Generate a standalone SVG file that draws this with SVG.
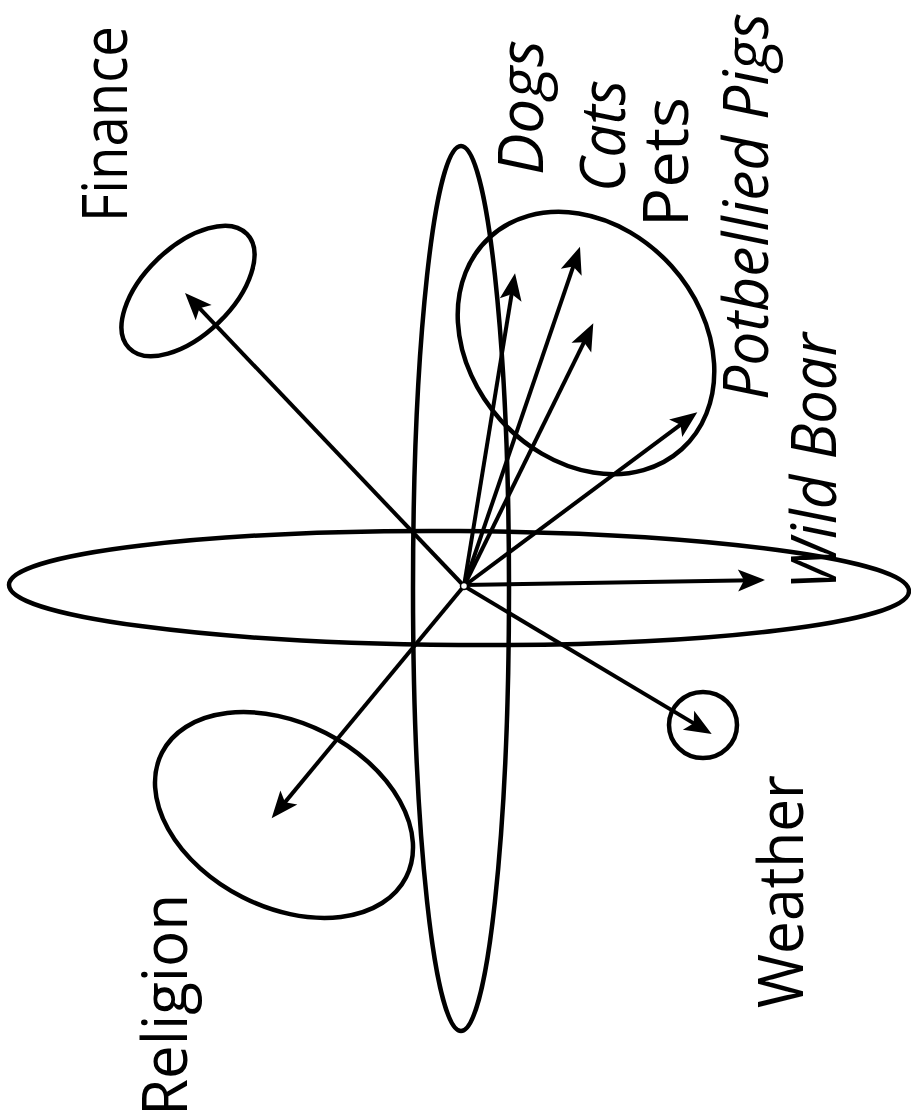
<svg xmlns="http://www.w3.org/2000/svg" width="911" height="1118" viewBox="0 0 911 1118">
<style>
.shape{fill:none;stroke:#000;stroke-width:4.5}
.arrow{fill:none;stroke:#000;stroke-width:4}
.lbl{font-family:"Open Sans","Liberation Sans",sans-serif;font-size:62px;fill:#000}
.it{font-style:italic}
</style>
<defs>
<marker id="ah" markerUnits="userSpaceOnUse" markerWidth="60" markerHeight="40" viewBox="-30 -20 60 40" refX="0" refY="0" orient="auto">
<path d="M12,0 L-15,-11 L-9,0 L-15,11 Z" fill="#000"/>
</marker>
</defs>
<rect width="911" height="1118" fill="#fff"/>
<g id="plane-horizontal"><ellipse class="shape" cx="459" cy="588" rx="450" ry="57" transform="rotate(0.4 459 588)"/></g>
<g id="plane-vertical"><ellipse class="shape" cx="461" cy="588.5" rx="48" ry="442.5"/></g>
<g id="finance">
<ellipse class="shape" cx="188" cy="291" rx="82" ry="44" transform="rotate(-44 188 291)"/>
<text class="lbl" transform="translate(127 222) rotate(-90)" textLength="196" lengthAdjust="spacingAndGlyphs">Finance</text>
</g>
<g id="religion">
<ellipse class="shape" cx="284" cy="815" rx="137" ry="92" transform="rotate(27 284 815)"/>
<text class="lbl" transform="translate(187 1116) rotate(-90)" textLength="222" lengthAdjust="spacingAndGlyphs">Religion</text>
</g>
<g id="weather">
<ellipse class="shape" cx="703" cy="725" rx="34" ry="33"/>
<text class="lbl" transform="translate(803 1008) rotate(-90)" textLength="233" lengthAdjust="spacingAndGlyphs">Weather</text>
</g>
<g id="pets">
<ellipse class="shape" cx="586" cy="343" rx="143" ry="115" transform="rotate(48 586 343)"/>
<text class="lbl" transform="translate(688 227) rotate(-90)" textLength="130" lengthAdjust="spacingAndGlyphs">Pets</text>
</g>
<g id="dogs"><text class="lbl it" transform="translate(543 175) rotate(-90)" textLength="135" lengthAdjust="spacingAndGlyphs">Dogs</text></g>
<g id="cats"><text class="lbl it" transform="translate(625 192) rotate(-90)" textLength="112" lengthAdjust="spacingAndGlyphs">Cats</text></g>
<g id="potbellied-pigs"><text class="lbl it" transform="translate(768 400) rotate(-90)" textLength="387" lengthAdjust="spacingAndGlyphs">Potbellied Pigs</text></g>
<g id="wild-boar"><text class="lbl it" transform="translate(836 590) rotate(-90)" textLength="257" lengthAdjust="spacingAndGlyphs">Wild Boar</text></g>
<g id="connectors">
<line class="arrow" x1="464" y1="586" x2="193.3" y2="301.7" marker-end="url(#ah)"/>
<line class="arrow" x1="464" y1="586" x2="279.3" y2="809.1" marker-end="url(#ah)"/>
<line class="arrow" x1="464" y1="586" x2="701.4" y2="727.9" marker-end="url(#ah)"/>
<line class="arrow" x1="464" y1="585" x2="753" y2="580.2" marker-end="url(#ah)"/>
<line class="arrow" x1="464" y1="586" x2="687.7" y2="419.3" marker-end="url(#ah)"/>
<line class="arrow" x1="464" y1="586" x2="513.1" y2="285.2" marker-end="url(#ah)"/>
<line class="arrow" x1="464" y1="586" x2="576.1" y2="258.1" marker-end="url(#ah)"/>
<line class="arrow" x1="464" y1="586" x2="588" y2="334.1" marker-end="url(#ah)"/>
</g>
<g id="origin"><circle cx="464" cy="586" r="3.5" fill="#fff" stroke="#000" stroke-width="1.5"/></g>
</svg>
